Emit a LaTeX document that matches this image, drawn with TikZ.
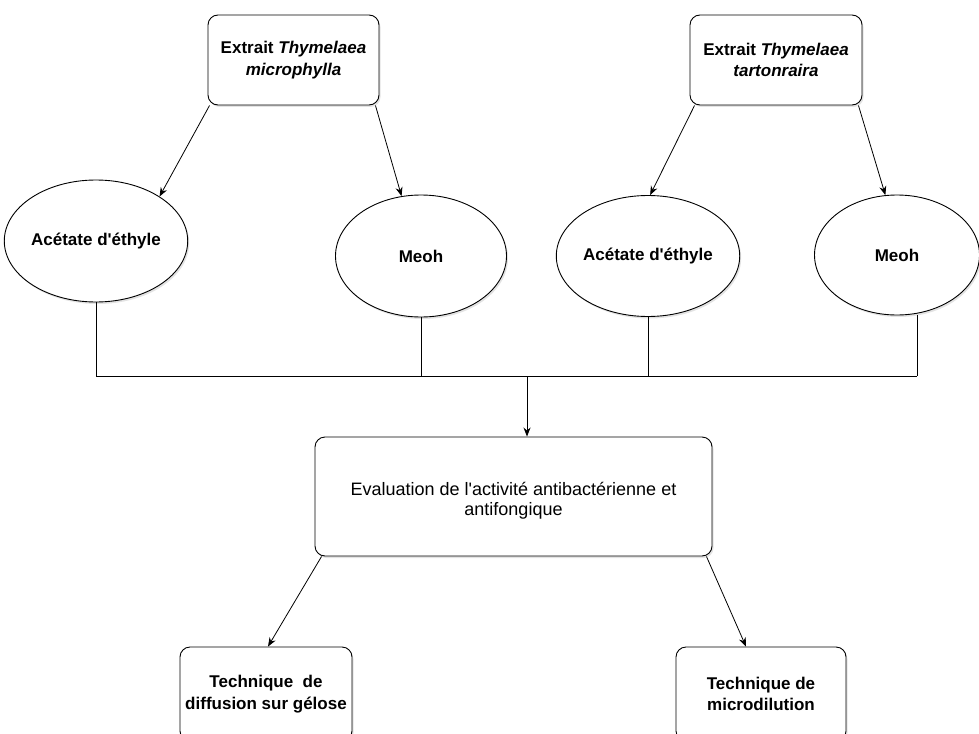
\documentclass[tikz,border=0pt]{standalone}
\usepackage{fontspec}
\setmainfont{Liberation Sans}[Ligatures=TeXOff]
\usetikzlibrary{shapes.geometric,arrows.meta,shadows,calc}
\begin{document}
\begin{tikzpicture}[x=1pt,y=-1pt,
  lbl/.style={font=\fontsize{17}{21.5}\selectfont\bfseries},
  shd/.style={drop shadow={opacity=0.22, shadow xshift=1.5pt, shadow yshift=-2pt}},
  rbox/.style={draw, rounded corners=10pt, fill=white, align=center, inner sep=0pt, line width=0.9pt, shd, lbl},
  ell/.style={draw, ellipse, fill=white, inner sep=0pt, line width=0.9pt, shd, lbl},
  arr/.style={-{Stealth[length=9pt,width=7pt]}, line width=0.8pt},
  bus/.style={line width=0.8pt}]
\useasboundingbox (0,0) rectangle (979,733);
\clip (0,0) rectangle (979,733);

\node[rbox, minimum width=171pt, minimum height=90pt] (b1) at (293.5,60) {Extrait \textit{Thymelaea}\\\textit{microphylla}};
\node[rbox, minimum width=172pt, minimum height=90pt] (b2) at (776,60) {Extrait \textit{Thymelaea}\\\textit{tartonraira}};

\node[ell, minimum width=176pt, minimum height=122pt] (e1) at (96,241) {Acétate d'éthyle};
\node[ell, minimum width=171pt, minimum height=122pt] (e2) at (421,256) {Meoh};
\node[ell, minimum width=171pt, minimum height=121pt] (e3) at (648,256) {Acétate d'éthyle};
\node[ell, minimum width=165pt, minimum height=120pt] (e4) at (897,255) {Meoh};

\node[rbox, minimum width=397pt, minimum height=119pt, font=\fontsize{18}{20}\selectfont] (ev) at (513.5,496.5) {\rule{0pt}{22pt}Evaluation de l'activité antibactérienne et\\antifongique};

\node[rbox, minimum width=172pt, minimum height=94pt] (t1) at (266,694) {Technique\ \ de\\diffusion sur gélose};
\node[rbox, minimum width=170pt, minimum height=94pt] (t2) at (761,694) {Technique de\\microdilution};

\draw[arr] ($(b1.south west)+(2,0)$) -- (e1.35);
\draw[arr] ($(b1.south east)+(-4,0)$) -- (e2.108);
\draw[arr] ($(b2.south west)+(5,0)$) -- (e3.88);
\draw[arr] ($(b2.south east)+(-4,0)$) -- (e4.101);

\coordinate (busL) at (96,376);
\coordinate (busR) at (917,376);
\coordinate (busM) at (527,376);
\draw[bus] (e1.south) -- (e1.south |- busL);
\draw[bus] (e2.south) -- (e2.south |- busL);
\draw[bus] (e3.south) -- (e3.south |- busL);
\draw[bus] (e4.south -| busR) -- (busR);
\draw[bus] (busL) -- (busR);
\draw[arr] (busM) -- (busM |- ev.north);

\draw[arr] ($(ev.south west)+(7,0)$) -- ($(t1.north)+(2,0)$);
\draw[arr] ($(ev.south east)+(-6,0)$) -- ($(t2.north)+(-15,0)$);
\end{tikzpicture}
\end{document}
